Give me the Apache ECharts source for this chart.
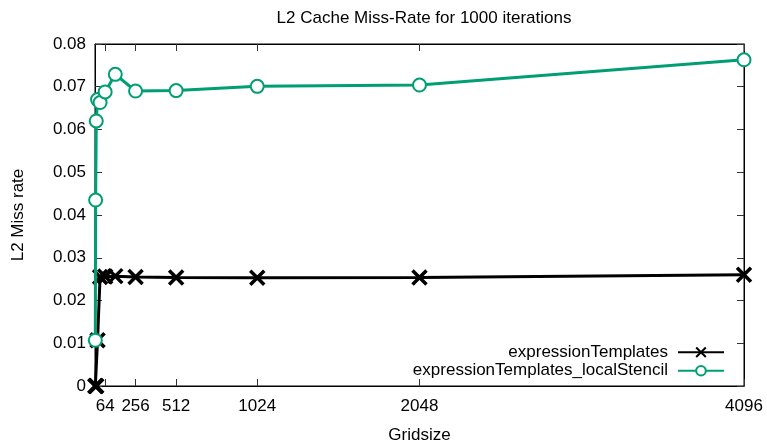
<!DOCTYPE html>
<html>
<head>
<meta charset="utf-8">
<script src="https://cdn.jsdelivr.net/npm/echarts@6/dist/echarts.min.js"></script>
<style>
  html, body { margin: 0; padding: 0; background: #fff; }
  #chart { width: 767px; height: 446px; }
</style>
</head>
<body>
<div id="chart"></div>
<script>
// Grid sizes (x) and L2 miss rates for both implementations
const gridSizes = [2, 4, 8, 16, 32, 64, 128, 256, 512, 1024, 2048, 4096];
const expressionTemplates = [0, 0, 0, 0.0107, 0.0255, 0.0256, 0.0257, 0.0255, 0.0254, 0.0253, 0.0254, 0.0260];
const expressionTemplatesLocalStencil = [0.0107, 0.0435, 0.0620, 0.0670, 0.0663, 0.0688, 0.0729, 0.0690, 0.0691, 0.0701, 0.0704, 0.0763];
const xTickValues = [64, 256, 512, 1024, 2048, 4096];

const FONT = '"Liberation Sans", Arial, sans-serif';
const FS = 17;

const pairs = (ys) => gridSizes.map((x, i) => [x, ys[i]]);

const chart = echarts.init(document.getElementById('chart'), null, { renderer: 'canvas' });

const tickStyle = { inside: true, length: 7, lineStyle: { color: '#333', width: 1 } };

chart.setOption({
  backgroundColor: '#fff',
  animation: false,
  title: {
    text: 'L2 Cache Miss-Rate for 1000 iterations',
    left: 419,
    textAlign: 'center',
    top: 5,
    textStyle: { fontFamily: FONT, fontSize: FS, fontWeight: 'normal', color: '#000' }
  },
  grid: {
    left: 95, right: 23, top: 44, bottom: 60,
    outerBoundsMode: 'none',
    containLabel: false,
    show: true, borderColor: '#000', borderWidth: 1, backgroundColor: 'transparent'
  },
  legend: {
    orient: 'vertical',
    right: 37,
    top: 338,
    align: 'right',
    itemWidth: 46,
    itemHeight: 12,
    itemGap: 0,
    textStyle: { fontFamily: FONT, fontSize: FS, lineHeight: 18.5, color: '#000', padding: [0, 5, 0, 0] },
    data: ['expressionTemplates', 'expressionTemplates_localStencil']
  },
  xAxis: [
    {
      type: 'value', min: 0, max: 4096, position: 'bottom',
      name: 'Gridsize', nameLocation: 'middle', nameGap: 41,
      nameTextStyle: { fontFamily: FONT, fontSize: FS, color: '#000' },
      axisLine: { show: true, onZero: false, lineStyle: { color: '#000', width: 1 } },
      axisTick: Object.assign({ customValues: xTickValues }, tickStyle),
      axisLabel: {
        customValues: xTickValues, fontFamily: FONT, fontSize: FS, color: '#000', margin: 12,
        formatter: (v) => String(v)
      },
      splitLine: { show: false }
    },
    {
      type: 'value', min: 0, max: 4096, position: 'top',
      axisLine: { show: true, onZero: false, lineStyle: { color: '#000', width: 1 } },
      axisTick: Object.assign({ customValues: xTickValues }, tickStyle),
      axisLabel: { show: false },
      splitLine: { show: false }
    }
  ],
  yAxis: [
    {
      type: 'value', min: 0, max: 0.08, interval: 0.01, position: 'left',
      name: 'L2 Miss rate', nameLocation: 'middle', nameGap: 68, nameRotate: 90,
      nameTextStyle: { fontFamily: FONT, fontSize: FS, color: '#000' },
      axisLine: { show: true, onZero: false, lineStyle: { color: '#000', width: 1 } },
      axisTick: tickStyle,
      axisLabel: {
        fontFamily: FONT, fontSize: FS, color: '#000', margin: 9,
        formatter: (v) => (v === 0 ? '0' : v.toFixed(2))
      },
      splitLine: { show: false }
    },
    {
      type: 'value', min: 0, max: 0.08, interval: 0.01, position: 'right',
      axisLine: { show: true, onZero: false, lineStyle: { color: '#000', width: 1 } },
      axisTick: tickStyle,
      axisLabel: { show: false },
      splitLine: { show: false }
    }
  ],
  series: [
    {
      name: 'expressionTemplates',
      type: 'line',
      data: pairs(expressionTemplates),
      clip: false,
      symbol: 'path://M0,0L10,10M0,10L10,0',
      symbolSize: 14,
      color: '#000',
      lineStyle: { color: '#000', width: 3 },
      itemStyle: { color: '#000', borderColor: '#000', borderWidth: 3.5 },
      z: 2
    },
    {
      name: 'expressionTemplates_localStencil',
      type: 'line',
      data: pairs(expressionTemplatesLocalStencil),
      clip: false,
      symbol: 'emptyCircle',
      symbolSize: 13,
      color: '#009e73',
      lineStyle: { color: '#009e73', width: 3 },
      itemStyle: { color: '#009e73', borderColor: '#009e73', borderWidth: 2.5 },
      z: 3
    }
  ]
});
</script>
</body>
</html>
